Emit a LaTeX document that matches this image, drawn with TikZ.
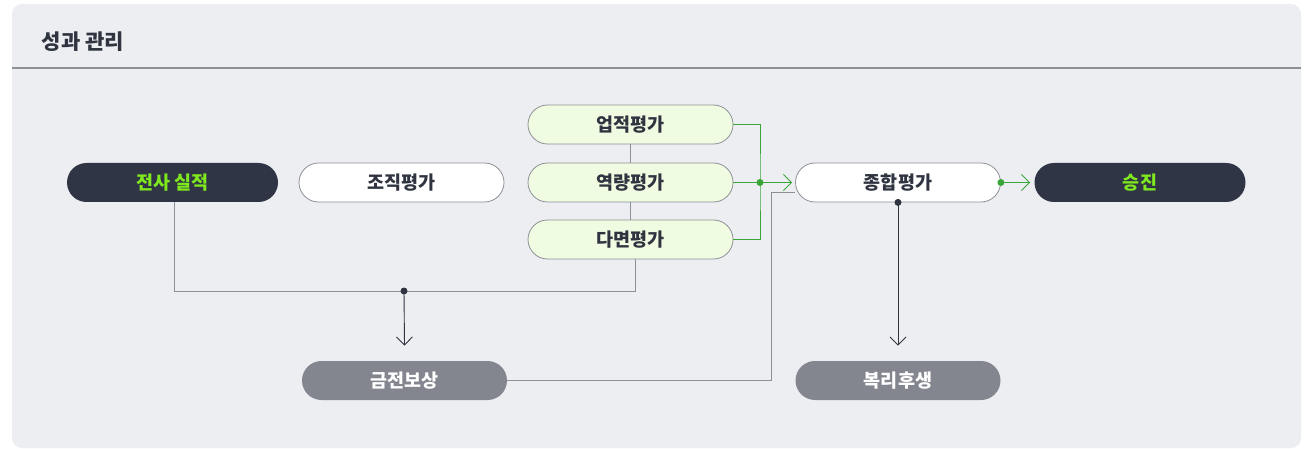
\documentclass[tikz,border=0pt]{standalone}
\usepackage{fontspec}
\setmainfont{Noto Sans CJK KR}
\usetikzlibrary{arrows.meta,positioning}
\definecolor{panelbg}{HTML}{EDEEF1}
\definecolor{darkbox}{HTML}{2F3544}
\definecolor{lime}{HTML}{7FE81E}
\definecolor{greybox}{HTML}{84868F}
\definecolor{paleg}{HTML}{F0FCE2}
\definecolor{linegrey}{HTML}{8E9097}
\definecolor{lineg}{HTML}{3AA63A}
\definecolor{txt}{HTML}{2F3440}
\tikzset{
  pill/.style={draw=linegrey,rectangle,rounded corners=19.5pt,minimum width=205pt,minimum height=39pt,inner sep=0pt,font=\bfseries\fontsize{18.5}{18.5}\selectfont,text=txt,line width=0.8pt},
  whitepill/.style={pill,fill=white},
  evalpill/.style={pill,fill=paleg},
  darkpill/.style={pill,draw=none,fill=darkbox,text=lime,minimum width=211pt},
  greypill/.style={pill,draw=none,fill=greybox,text=white},
  dot/.style={circle,fill,inner sep=0pt,minimum size=7pt}
}

\begin{document}
\begin{tikzpicture}[x=1pt,y=-1pt,line width=0.9pt,>={Straight Barb[length=8pt,width=16pt,line width=0.9pt]}]
  \useasboundingbox (0,0) rectangle (1304,449);
  \fill[white] (0,0) rectangle (1304,449);
  \fill[panelbg,rounded corners=10pt] (12,4) rectangle (1301,448);
  \draw[linegrey,line width=1.2pt] (12,68) -- (1301,68);
  \node[anchor=west,font=\bfseries\fontsize{21}{21}\selectfont,text=txt] (title) at (38,42) {성과 관리};

  \node[darkpill] (corp) at (172.5,182.5) {전사 실적};
  \node[whitepill] (org) at (401.5,182.5) {조직평가};
  \node[evalpill] (perf) at (630.5,124.5) {업적평가};
  \node[evalpill] (comp) at (630.5,182.5) {역량평가};
  \node[evalpill] (multi) at (630.5,239.5) {다면평가};
  \node[whitepill] (total) at (898,182.5) {종합평가};
  \node[darkpill] (promo) at (1140,182.5) {승진};
  \node[greypill] (pay) at (404.5,380.5) {금전보상};
  \node[greypill] (welfare) at (898,380.5) {복리후생};

  \coordinate (join) at (404,291);
  \coordinate (gjoin) at (760,182.5);

  % evaluation column and reward path
  \draw[linegrey] (perf) -- (comp);
  \draw[linegrey] (comp) -- (multi);
  \draw[linegrey] (corp.south -| 174,0) -- (174,291) -- (635,291) -- (multi.south -| 635,0);
  \draw[->,txt] (join) -- ([yshift=15pt]pay.north);
  \node[dot,txt] at (join) {};
  \draw[linegrey] (pay.east) -| (771,192) -- (total.west |- 0,192);

  % green paths
  \draw[lineg] (perf.east) -| (gjoin) |- (multi.east);
  \draw[->,lineg] (comp.east) -- ([xshift=-3pt]total.west);
  \node[dot,lineg] at (gjoin) {};
  \draw[->,lineg] (total.east) -- ([xshift=-4pt]promo.west);
  \node[dot,lineg] at (total.east) {};

  % welfare
  \draw[->,txt] (total.south) -- ([yshift=15pt]welfare.north);
  \node[dot,txt] at (total.south) {};
\end{tikzpicture}
\end{document}
